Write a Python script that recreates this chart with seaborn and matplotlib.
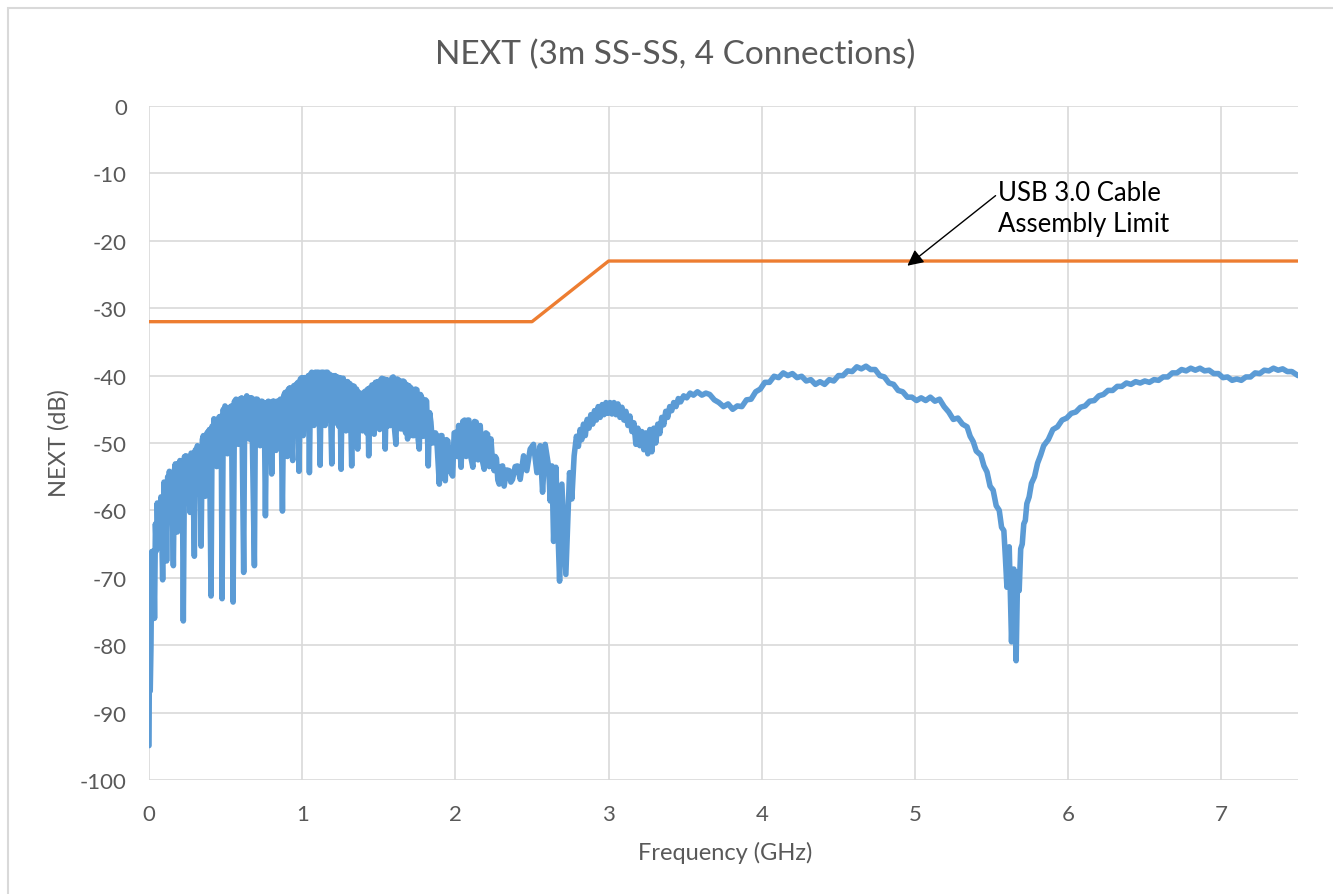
import numpy as np
import pandas as pd
import seaborn as sns
import matplotlib
matplotlib.use("Agg")
import matplotlib.pyplot as plt
from matplotlib.patches import Rectangle

# ---- data: (frequency GHz, NEXT dB) ----
band_points = [
    (0.000, -94.9), (0.003, -80.1), (0.008, -86.8), (0.013, -80.0), (0.018, -66.1), (0.024, -76.1),
    (0.030, -66.0), (0.036, -76.0), (0.042, -62.0), (0.048, -66.0), (0.054, -58.9), (0.060, -64.0),
    (0.066, -59.0), (0.072, -63.0), (0.078, -58.0), (0.089, -70.3), (0.098, -55.8), (0.104, -61.0),
    (0.109, -56.0), (0.115, -67.5), (0.122, -55.0), (0.128, -60.0), (0.133, -54.2), (0.139, -60.0),
    (0.145, -55.0), (0.152, -59.0), (0.159, -68.2), (0.166, -54.0), (0.172, -53.1), (0.178, -59.0),
    (0.185, -63.2), (0.192, -53.0), (0.197, -58.0), (0.202, -52.6), (0.210, -58.5), (0.217, -53.0),
    (0.224, -76.4), (0.232, -52.0), (0.237, -58.0), (0.241, -51.9), (0.248, -57.5), (0.255, -52.0),
    (0.261, -57.0), (0.268, -60.3), (0.275, -51.5), (0.283, -51.6), (0.289, -57.0), (0.296, -66.8),
    (0.303, -51.0), (0.309, -56.0), (0.316, -50.4), (0.321, -56.0), (0.327, -57.6), (0.333, -51.0),
    (0.340, -65.3), (0.348, -49.5), (0.355, -48.9), (0.361, -55.0), (0.368, -57.9), (0.374, -49.0),
    (0.381, -48.4), (0.388, -54.0), (0.394, -48.0), (0.405, -72.7), (0.412, -47.5), (0.418, -52.0),
    (0.424, -46.4), (0.430, -52.0), (0.436, -47.0), (0.442, -53.5), (0.450, -46.5), (0.459, -46.1),
    (0.465, -52.0), (0.471, -46.0), (0.477, -73.1), (0.485, -45.0), (0.490, -50.0), (0.496, -44.5),
    (0.503, -50.5), (0.512, -51.6), (0.518, -44.8), (0.525, -44.7), (0.532, -50.0), (0.538, -44.5),
    (0.549, -73.6), (0.558, -43.8), (0.563, -49.5), (0.568, -43.5), (0.576, -49.5), (0.583, -50.2),
    (0.590, -43.5), (0.597, -49.0), (0.605, -43.3), (0.618, -69.2), (0.625, -43.5), (0.631, -49.0),
    (0.638, -43.0), (0.645, -49.0), (0.653, -49.4), (0.660, -43.3), (0.665, -49.0), (0.670, -43.3),
    (0.688, -68.2), (0.695, -43.5), (0.700, -49.5), (0.707, -43.5), (0.713, -49.5), (0.719, -44.0),
    (0.725, -50.4), (0.732, -43.8), (0.738, -43.8), (0.745, -49.5), (0.752, -44.0), (0.760, -60.8),
    (0.768, -44.0), (0.774, -49.5), (0.779, -43.8), (0.787, -49.5), (0.794, -44.0), (0.801, -54.6),
    (0.808, -43.8), (0.813, -49.5), (0.816, -43.8), (0.822, -48.5), (0.829, -51.1), (0.836, -43.8),
    (0.844, -43.8), (0.850, -49.0), (0.857, -43.5), (0.864, -48.5), (0.871, -60.1), (0.879, -43.0),
    (0.888, -42.5), (0.895, -48.5), (0.903, -52.0), (0.910, -42.0), (0.915, -48.0), (0.920, -41.8),
    (0.928, -48.0), (0.938, -52.6), (0.945, -41.5), (0.952, -48.0), (0.959, -41.3), (0.966, -47.5),
    (0.972, -41.0), (0.979, -54.2), (0.988, -40.5), (0.997, -40.3), (1.002, -47.0), (1.007, -48.9),
    (1.015, -40.3), (1.020, -47.0), (1.025, -40.3), (1.033, -47.0), (1.040, -40.0), (1.047, -54.4),
    (1.055, -39.8), (1.062, -39.5), (1.070, -46.5), (1.077, -47.4), (1.085, -39.5), (1.094, -39.5),
    (1.100, -46.5), (1.107, -39.5), (1.117, -53.3), (1.125, -39.5), (1.132, -46.5), (1.138, -39.5),
    (1.149, -47.4), (1.155, -39.5), (1.165, -39.5), (1.172, -46.5), (1.180, -39.8), (1.193, -53.1),
    (1.200, -40.0), (1.207, -47.0), (1.215, -40.0), (1.222, -47.0), (1.230, -40.2), (1.238, -47.5),
    (1.245, -40.3), (1.254, -53.9), (1.261, -40.4), (1.268, -40.4), (1.276, -47.5), (1.286, -48.2),
    (1.292, -40.9), (1.297, -40.9), (1.305, -48.0), (1.312, -41.2), (1.323, -53.4), (1.330, -41.5),
    (1.340, -41.6), (1.348, -48.0), (1.355, -42.0), (1.362, -50.9), (1.370, -42.5), (1.377, -42.6),
    (1.385, -48.0), (1.394, -48.2), (1.402, -42.5), (1.412, -42.3), (1.420, -48.5), (1.427, -42.0),
    (1.434, -51.9), (1.442, -41.8), (1.449, -48.0), (1.455, -41.4), (1.463, -48.0), (1.470, -48.7),
    (1.478, -41.0), (1.485, -47.5), (1.492, -40.9), (1.499, -47.5), (1.506, -48.0), (1.513, -40.6),
    (1.520, -40.4), (1.528, -47.5), (1.535, -40.5), (1.542, -50.9), (1.550, -40.6), (1.557, -47.5),
    (1.564, -40.7), (1.572, -47.4), (1.579, -47.4), (1.587, -40.3), (1.594, -40.2), (1.603, -48.0),
    (1.612, -50.2), (1.620, -40.5), (1.627, -47.5), (1.634, -40.7), (1.642, -47.9), (1.651, -47.9),
    (1.658, -40.8), (1.666, -40.9), (1.675, -48.5), (1.681, -41.3), (1.688, -49.4), (1.697, -41.5),
    (1.704, -48.5), (1.710, -41.8), (1.720, -48.9), (1.731, -48.9), (1.740, -42.0), (1.749, -42.1),
    (1.757, -49.5), (1.764, -50.9), (1.772, -42.8), (1.781, -43.3), (1.790, -49.0), (1.797, -48.9),
    (1.805, -43.6), (1.812, -43.8), (1.823, -53.4), (1.832, -45.5), (1.840, -46.9), (1.850, -50.0),
    (1.862, -49.9), (1.870, -48.5), (1.877, -48.9), (1.895, -56.1), (1.905, -48.9), (1.912, -48.9),
    (1.922, -54.0), (1.934, -55.6), (1.942, -49.5), (1.951, -49.7), (1.962, -54.0), (1.982, -54.9),
    (1.992, -48.5), (2.004, -48.4), (2.012, -52.0), (2.021, -47.4), (2.037, -53.6), (2.048, -46.8),
    (2.060, -46.6), (2.070, -52.0), (2.080, -46.6), (2.088, -46.6), (2.100, -52.0), (2.114, -53.6),
    (2.125, -46.8), (2.136, -46.9), (2.148, -52.5), (2.162, -47.4), (2.175, -52.5), (2.188, -53.9),
    (2.199, -48.5), (2.210, -48.7), (2.221, -53.5), (2.232, -49.4), (2.243, -53.0), (2.253, -54.1),
    (2.260, -52.0), (2.268, -52.3), (2.277, -55.5), (2.286, -56.1), (2.297, -53.5), (2.308, -53.4),
    (2.318, -56.4), (2.335, -54.0), (2.351, -54.1), (2.362, -55.8), (2.373, -55.4), (2.390, -53.5),
    (2.405, -53.4),
]
mid_points = [
    (2.423, -55.4), (2.445, -51.9), (2.466, -54.1), (2.488, -50.9), (2.510, -50.2), (2.532, -54.4),
    (2.553, -50.4), (2.569, -57.3), (2.586, -50.2), (2.608, -53.4), (2.619, -58.6), (2.630, -53.4),
    (2.641, -64.6), (2.656, -53.6), (2.680, -70.5), (2.695, -56.1), (2.721, -69.5), (2.745, -54.4),
    (2.760, -58.3), (2.775, -51.9), (2.790, -49.0), (2.803, -50.5), (2.814, -48.0), (2.825, -49.5),
    (2.836, -47.2), (2.848, -48.9), (2.860, -46.5), (2.872, -47.8), (2.884, -45.8), (2.896, -47.2),
    (2.908, -45.2), (2.920, -46.6), (2.932, -44.6), (2.945, -46.2), (2.958, -44.3), (2.970, -45.8),
    (2.983, -44.0), (2.996, -45.6), (3.009, -44.0), (3.022, -45.7), (3.035, -44.0), (3.048, -45.8),
    (3.061, -44.2), (3.074, -46.2), (3.087, -44.7), (3.100, -46.6), (3.113, -45.3), (3.126, -47.4),
    (3.139, -46.0), (3.152, -48.3), (3.165, -47.0), (3.178, -50.2), (3.191, -47.8), (3.204, -50.4),
    (3.217, -48.3), (3.230, -51.0), (3.243, -48.5), (3.256, -51.6), (3.269, -48.0), (3.282, -51.3),
    (3.295, -47.8), (3.308, -50.0), (3.321, -47.2), (3.334, -48.6), (3.347, -46.2), (3.360, -47.3),
    (3.373, -45.3), (3.386, -46.2), (3.399, -44.6), (3.412, -45.2), (3.425, -44.0), (3.440, -44.6),
    (3.455, -43.4), (3.470, -43.9), (3.490, -43.0), (3.510, -43.3), (3.532, -42.6), (3.554, -42.9),
    (3.580, -42.4), (3.609, -42.9), (3.635, -42.6),
]
high_points = [
    (3.66, -42.8), (3.69, -43.6), (3.72, -44.0), (3.75, -44.6), (3.78, -44.2), (3.81, -45.0),
    (3.84, -44.5), (3.87, -44.6), (3.90, -43.6), (3.93, -43.5), (3.96, -42.4), (3.99, -42.0),
    (4.02, -41.0), (4.05, -41.0), (4.08, -40.1), (4.11, -40.3), (4.14, -39.6), (4.17, -40.0),
    (4.20, -39.7), (4.23, -40.3), (4.26, -40.1), (4.29, -40.8), (4.32, -40.6), (4.35, -41.3),
    (4.38, -40.9), (4.41, -41.3), (4.44, -40.6), (4.47, -40.8), (4.50, -40.0), (4.53, -40.0),
    (4.56, -39.3), (4.59, -39.4), (4.62, -38.7), (4.65, -39.0), (4.68, -38.6), (4.71, -39.1),
    (4.74, -39.1), (4.77, -40.0), (4.80, -40.2), (4.83, -41.1), (4.86, -41.3), (4.89, -42.2),
    (4.92, -42.4), (4.95, -43.2), (4.98, -43.2), (5.01, -43.7), (5.04, -43.3), (5.07, -43.7),
    (5.10, -43.2), (5.13, -43.8), (5.16, -43.5), (5.19, -44.6), (5.22, -45.4), (5.25, -46.5),
    (5.28, -46.3), (5.31, -47.2), (5.34, -47.6), (5.36, -49.0), (5.38, -49.8), (5.40, -51.2),
    (5.43, -51.8), (5.45, -53.4), (5.47, -54.3), (5.49, -56.4), (5.51, -57.0), (5.53, -59.3),
    (5.55, -60.0), (5.565, -62.5), (5.58, -63.0), (5.59, -67.0), (5.60, -71.4), (5.615, -65.4),
    (5.63, -79.5), (5.645, -68.7), (5.66, -82.3), (5.67, -69.2), (5.68, -71.9), (5.69, -65.7),
    (5.70, -65.0), (5.71, -62.0), (5.72, -61.5), (5.73, -59.0), (5.745, -58.0), (5.76, -56.0),
    (5.78, -55.0), (5.80, -53.0), (5.82, -51.8), (5.84, -50.4), (5.87, -49.5), (5.90, -48.0),
    (5.93, -47.6), (5.96, -46.6), (5.99, -46.3), (6.02, -45.6), (6.05, -45.4), (6.08, -44.7),
    (6.11, -44.5), (6.14, -43.8), (6.17, -43.7), (6.20, -43.0), (6.23, -42.8), (6.26, -42.2),
    (6.29, -42.2), (6.32, -41.6), (6.35, -41.6), (6.38, -41.1), (6.41, -41.3), (6.44, -40.9),
    (6.47, -41.1), (6.50, -40.8), (6.53, -41.0), (6.56, -40.6), (6.59, -40.7), (6.62, -40.2),
    (6.65, -40.2), (6.68, -39.6), (6.71, -39.6), (6.74, -39.1), (6.77, -39.3), (6.80, -38.9),
    (6.83, -39.2), (6.86, -38.9), (6.89, -39.3), (6.92, -39.2), (6.95, -39.7), (6.98, -39.7),
    (7.01, -40.3), (7.04, -40.2), (7.07, -40.7), (7.10, -40.5), (7.13, -40.7), (7.16, -40.2),
    (7.19, -40.2), (7.22, -39.6), (7.25, -39.7), (7.28, -39.2), (7.31, -39.3), (7.34, -38.9),
    (7.37, -39.2), (7.40, -39.0), (7.43, -39.4), (7.46, -39.4), (7.50, -40.0),
]
limit_freq = [0.0, 2.5, 3.0, 7.5]
limit_db = [-32, -32, -23, -23]
x_ticks = [0, 1, 2, 3, 4, 5, 6, 7]
y_ticks = [-100, -90, -80, -70, -60, -50, -40, -30, -20, -10, 0]
title = "NEXT (3m SS-SS, 4 Connections)"
x_label = "Frequency (GHz)"
y_label = "NEXT (dB)"
annot_text = "USB 3.0 Cable\nAssembly Limit"

all_points = band_points + mid_points + high_points
meas = pd.DataFrame(all_points, columns=["freq", "next"])
lim = pd.DataFrame({"freq": limit_freq, "next": limit_db})

sns.set_theme(style="whitegrid")
plt.rcParams["font.family"] = ["Lato", "DejaVu Sans"]

W, H = 1333, 895
fig = plt.figure(figsize=(W / 100, H / 100), dpi=100)
fig.patch.set_facecolor("white")
ax = fig.add_axes([149 / W, 1 - 781 / H, (1298 - 149) / W, (781 - 107) / H])

sns.lineplot(data=meas, x="freq", y="next", ax=ax, color="#5B9BD5", linewidth=4.0,
             estimator=None, sort=False)
sns.lineplot(data=lim, x="freq", y="next", ax=ax, color="#ED7D31", linewidth=2.4,
             estimator=None, sort=False)

ax.set_xlim(0, 7.5)
ax.set_ylim(-100, 0)
ax.set_xticks(x_ticks)
ax.set_yticks(y_ticks)
ax.set_xticklabels([str(t) for t in x_ticks])
ax.set_yticklabels([str(t) for t in y_ticks])
ax.grid(True, color="#D9D9D9", linewidth=1.2)
ax.set_axisbelow(True)
for s in ax.spines.values():
    s.set_visible(False)
ax.set_facecolor("white")
ax.tick_params(axis="both", length=0, labelsize=16, labelcolor="#595959")
ax.tick_params(axis="y", pad=16)
ax.tick_params(axis="x", pad=17)

ax.set_xlabel(x_label, fontsize=17, color="#595959")
ax.set_ylabel(y_label, fontsize=17, color="#595959")
ax.xaxis.set_label_coords((725 - 149) / 1149, (781 - 842) / 674)
ax.yaxis.set_label_coords((70 - 149) / 1149, (781 - 443) / 674)
fig.text(675 / W, 1 - 55 / H, title, fontsize=24, color="#595959", ha="center", va="center")

ax.annotate("", xy=(4.95, -23.7), xytext=(5.526, -13.3),
            arrowprops=dict(arrowstyle="-|>", color="black", lw=1.0, mutation_scale=24,
                            shrinkA=0, shrinkB=0))
ax.text(5.545, -11.0, annot_text, fontsize=18.5, color="black", ha="left", va="top",
        linespacing=1.3)

fig.patches.append(Rectangle((8 / W, -0.1), 1.2, 1.1 - 9 / H, transform=fig.transFigure,
                             fill=False, edgecolor="#D9D9D9", linewidth=1.5))

fig.savefig("out.png", dpi=100)
